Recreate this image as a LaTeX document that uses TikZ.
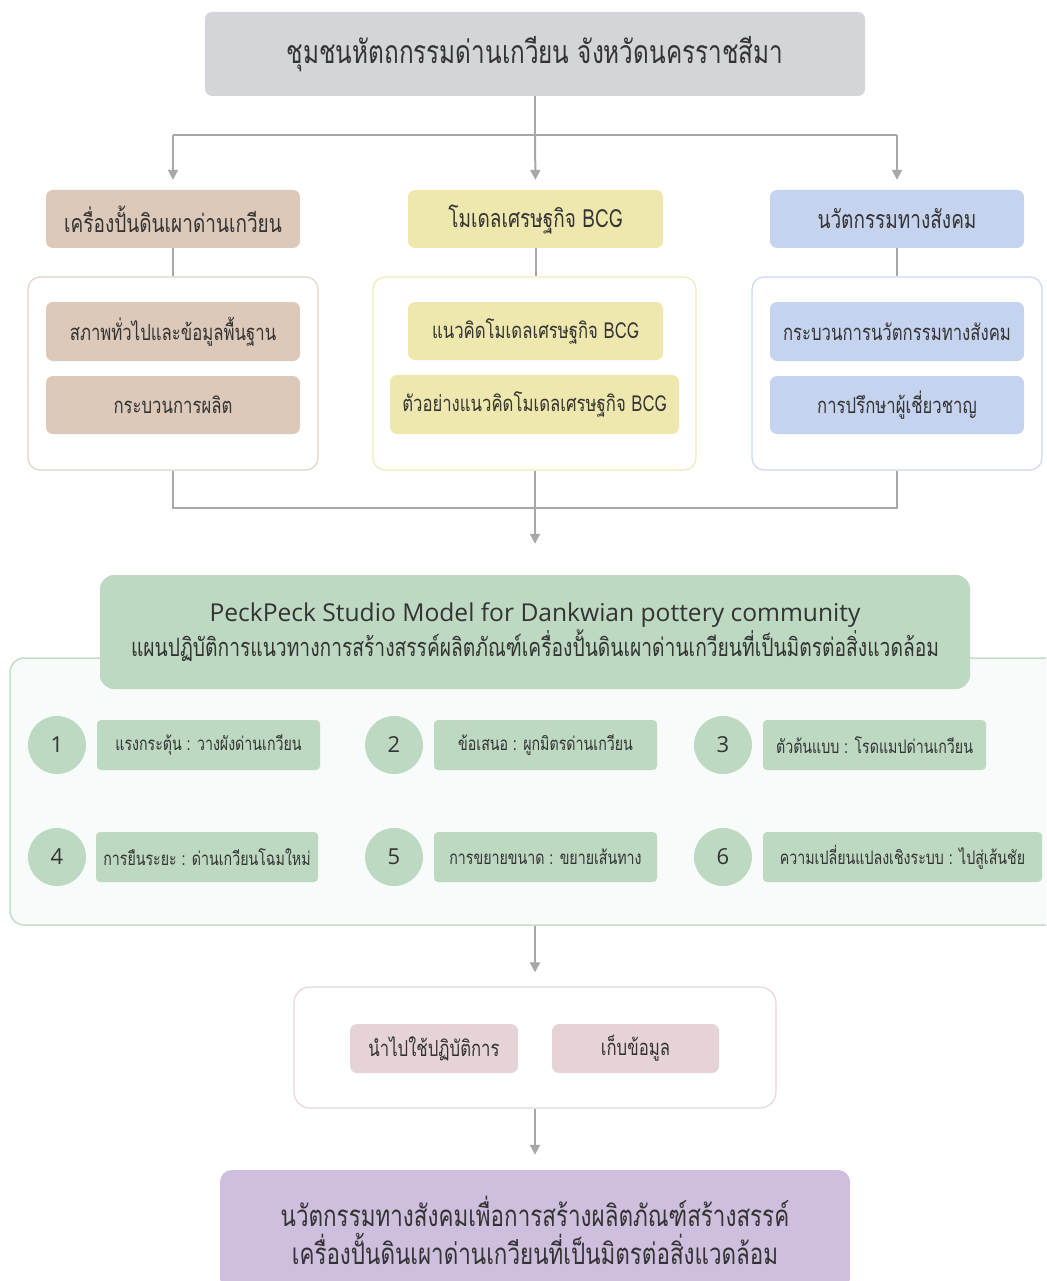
\documentclass[tikz,border=0pt]{standalone}
\usepackage{fontspec}
\setmainfont{Open Sans}
\newfontfamily\thaif[Script=Thai, FakeStretch=0.76]{Loma}
\usetikzlibrary{arrows.meta}
\definecolor{txt}{HTML}{333333}
\definecolor{conncol}{HTML}{A8A8A8}
\definecolor{grayfill}{HTML}{D4D5D9}
\definecolor{brownfill}{HTML}{DCC9B9}
\definecolor{brownline}{HTML}{E4D3C6}
\definecolor{yellowfill}{HTML}{EEE7AE}
\definecolor{yellowline}{HTML}{F0EAB8}
\definecolor{bluefill}{HTML}{C5D3EE}
\definecolor{blueline}{HTML}{CBD8EF}
\definecolor{greenfill}{HTML}{BED9C1}
\definecolor{greenline}{HTML}{C4DEC8}
\definecolor{greenbg}{HTML}{F7FBF9}
\definecolor{pinkfill}{HTML}{E6D3D7}
\definecolor{pinkline}{HTML}{E8D5D9}
\definecolor{purplefill}{HTML}{CEBFDE}
\begin{document}
\begin{tikzpicture}[x=1pt,y=-1pt,
  box/.style={rounded corners=7pt, inner sep=0pt, align=center, text=txt, font=\thaif\fontsize{22}{26}\selectfont},
  cont/.style={rounded corners=12pt, inner sep=0pt, draw, line width=1.2pt, fill=white},
  conn/.style={draw=conncol, line width=2pt},
  arr/.style={conn, -{Triangle[length=10pt,width=10pt]}},
  numc/.style={circle, fill=greenfill, minimum size=58pt, inner sep=0pt, text=txt, font=\fontsize{22}{26}\selectfont},
  item/.style={box, rounded corners=4pt, fill=greenfill, minimum height=50pt, font=\thaif\fontsize{18.7}{22}\selectfont}
]
\useasboundingbox (0,0) rectangle (1046,1281);
\clip (0,0) rectangle (1046,1281);

% top
\node[box, fill=grayfill, minimum width=660pt, minimum height=84pt, font=\thaif\fontsize{32}{36}\selectfont] (top) at (535,54) {ชุมชนหัตถกรรมด่านเกวียน จังหวัดนครราชสีมา};

% headers
\node[box, fill=brownfill, minimum width=254pt, minimum height=58pt, font=\thaif\fontsize{25}{28}\selectfont] (h1) at (173,219) {เครื่องปั้นดินเผาด่านเกวียน};
\node[box, fill=yellowfill, minimum width=255pt, minimum height=58pt, font=\thaif\fontsize{25}{28}\selectfont] (h2) at (535.5,219) {โมเดลเศรษฐกิจ BCG};
\node[box, fill=bluefill, minimum width=254pt, minimum height=58pt, font=\thaif\fontsize{25}{28}\selectfont] (h3) at (897,219) {นวัตกรรมทางสังคม};

% containers
\node[cont, draw=brownline, minimum width=290pt, minimum height=193pt] (c1) at (173,373.5) {};
\node[cont, draw=yellowline, minimum width=323pt, minimum height=193pt] (c2) at (534.5,373.5) {};
\node[cont, draw=blueline, minimum width=290pt, minimum height=193pt] (c3) at (897,373.5) {};

\node[box, fill=brownfill, minimum width=254pt, minimum height=59pt] (b11) at (173,331.5) {สภาพทั่วไปและข้อมูลพื้นฐาน};
\node[box, fill=brownfill, minimum width=254pt, minimum height=58pt] (b12) at (173,405) {กระบวนการผลิต};
\node[box, fill=yellowfill, minimum width=255pt, minimum height=58pt] (b21) at (535.5,331) {แนวคิดโมเดลเศรษฐกิจ BCG};
\node[box, fill=yellowfill, minimum width=289pt, minimum height=59pt] (b22) at (534.5,404.5) {ตัวอย่างแนวคิดโมเดลเศรษฐกิจ BCG};
\node[box, fill=bluefill, minimum width=254pt, minimum height=59pt] (b31) at (897,331.5) {กระบวนการนวัตกรรมทางสังคม};
\node[box, fill=bluefill, minimum width=254pt, minimum height=58pt] (b32) at (897,405) {การปรึกษาผู้เชี่ยวชาญ};

% connectors top
\coordinate (j1) at (535,135);
\coordinate (j2) at (535,508);
\draw[conn] (top.south) -- (j1);
\draw[conn] (h1.north |- j1) -- (h3.north |- j1);
\draw[arr, shorten >=10pt] (h1.north |- j1) -- (h1.north);
\draw[arr, shorten >=10pt] (j1) -- (h2.north);
\draw[arr, shorten >=10pt] (h3.north |- j1) -- (h3.north);
\draw[conn] (h1.south) -- (c1.north -| h1.south);
\draw[conn] (h2.south) -- (c2.north -| h2.south);
\draw[conn] (h3.south) -- (c3.north -| h3.south);
\draw[conn] (c1.south) |- (j2);
\draw[conn] (c3.south) |- (j2);
\draw[conn] (c2.south -| j2) -- (j2);

% big green container
\node[rounded corners=14pt, draw=greenline, line width=1.5pt, fill=greenbg, minimum width=1050pt, minimum height=267pt, inner sep=0pt] (bc) at (535,791.5) {};
\node[box, rounded corners=14pt, fill=greenfill, minimum width=870pt, minimum height=114pt] (gh) at (535,632)
  {{\rmfamily\fontsize{24.6}{30}\selectfont PeckPeck Studio Model for Dankwian pottery community}\\[2pt]
   {\thaif\fontsize{25.3}{30}\selectfont แผนปฏิบัติการแนวทางการสร้างสรรค์ผลิตภัณฑ์เครื่องปั้นดินเผาด่านเกวียนที่เป็นมิตรต่อสิ่งแวดล้อม}};
\draw[arr, shorten >=31pt] (j2) -- (gh.north);

% numbered items
\node[numc] (n1) at (57,745) {1};
\node[numc] (n2) at (394,745) {2};
\node[numc] (n3) at (723,745) {3};
\node[numc] (n4) at (57,857) {4};
\node[numc] (n5) at (394,857) {5};
\node[numc] (n6) at (723,857) {6};
\node[item, minimum width=223pt] (i1) at (208.5,745) {แรงกระตุ้น : วางผังด่านเกวียน};
\node[item, minimum width=223pt] (i2) at (545.5,745) {ข้อเสนอ : ผูกมิตรด่านเกวียน};
\node[item, minimum width=223pt] (i3) at (874.5,745) {ตัวต้นแบบ : โรดแมปด่านเกวียน};
\node[item, minimum width=222pt] (i4) at (207,857) {การยืนระยะ : ด่านเกวียนโฉมใหม่};
\node[item, minimum width=223pt] (i5) at (545.5,857) {การขยายขนาด : ขยายเส้นทาง};
\node[item, minimum width=279pt] (i6) at (902.5,857) {ความเปลี่ยนแปลงเชิงระบบ : ไปสู่เส้นชัย};

% pink container
\node[cont, draw=pinkline, minimum width=482pt, minimum height=121pt, rounded corners=16pt] (pc) at (535,1047.5) {};
\node[box, fill=pinkfill, minimum width=168pt, minimum height=49pt] (p1) at (434,1048.5) {นำไปใช้ปฏิบัติการ};
\node[box, fill=pinkfill, minimum width=167pt, minimum height=49pt] (p2) at (635.5,1048.5) {เก็บข้อมูล};
\draw[arr, shorten >=14pt] (bc.south -| j2) -- (pc.north -| j2);

% purple result
\node[box, rounded corners=12pt, fill=purplefill, minimum width=630pt, minimum height=120pt, font=\thaif\fontsize{29.5}{38}\selectfont] (pu) at (535,1230)
  {นวัตกรรมทางสังคมเพื่อการสร้างผลิตภัณฑ์สร้างสรรค์\\เครื่องปั้นดินเผาด่านเกวียนที่เป็นมิตรต่อสิ่งแวดล้อม};
\draw[arr, shorten >=15pt] (pc.south) -- (pu.north);
\end{tikzpicture}
\end{document}
